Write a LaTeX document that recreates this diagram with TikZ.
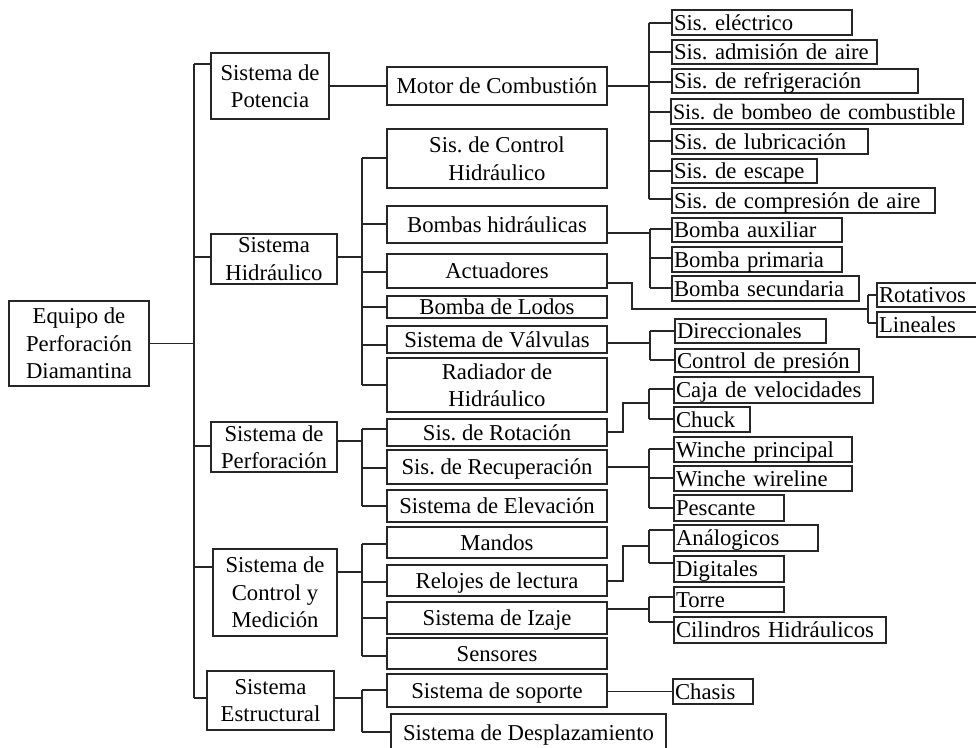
\documentclass[tikz,border=0pt]{standalone}
\usepackage{fontspec}
\setmainfont{Liberation Serif}
\frenchspacing
\tikzset{
  box/.style={draw=black!85, line width=1.15pt, inner sep=0pt, align=center, font=\fontsize{22.7}{27.5}\selectfont\frenchspacing},
  one/.style={text height=15pt, text depth=0pt},
  leaf/.style={box, one, align=left, inner xsep=2pt},
  conn/.style={draw=black!85, line width=1.15pt},
}
% centred box: [options]{name}{x1}{y1}{x2}{y2}{text}
\newcommand\bxc[7][]{%
  \pgfmathsetmacro\bxW{#5-#3}\pgfmathsetmacro\bxH{#6-#4}%
  \pgfmathsetmacro\bxX{(#3+#5)/2}\pgfmathsetmacro\bxY{(#4+#6)/2}%
  \node[box,#1,minimum width=\bxW pt,minimum height=\bxH pt] (#2) at (\bxX,\bxY) {#7};}
% left-aligned leaf box: {name}{x1}{y1}{x2}{y2}{text}
\newcommand\bxl[6]{%
  \pgfmathsetmacro\bxW{#4-#2}\pgfmathsetmacro\bxT{#4-#2-4}\pgfmathsetmacro\bxH{#5-#3}%
  \pgfmathsetmacro\bxX{(#2+#4)/2}\pgfmathsetmacro\bxY{(#3+#5)/2}%
  \node[leaf,text width=\bxT pt,minimum height=\bxH pt] (#1) at (\bxX,\bxY) {\mbox{#6}};}
% junction on a trunk and branch to a node's west side
\newcommand\jn[4]{\coordinate (#1) at (#2,#3); \draw[conn] (#1) -- (#1 -| #4.west);}
\begin{document}
\begin{tikzpicture}[x=1pt,y=-1pt]
\fill[white] (0,0) rectangle (976,747);
\useasboundingbox (0,0) rectangle (976,747);

% ---------- level 0 and 1
\bxc{root}{9}{301}{149}{386}{Equipo de\\Perforación\\Diamantina}
\bxc{pot}{211}{53}{329}{119}{Sistema de\\Potencia}
\bxc{hid}{211}{234}{337}{284}{Sistema\\Hidráulico}
\bxc{per}{211}{422}{337}{472}{Sistema de\\Perforación}
\bxc{con}{213}{549}{337}{636}{Sistema de\\Control y\\Medición}
\bxc{est}{207}{671}{334}{730}{Sistema\\Estructural}

% ---------- level 2
\bxc[one]{mot}{387}{67}{607}{105}{Motor de Combustión}
\bxc{ctl}{387}{129}{607}{188}{Sis. de Control\\Hidráulico}
\bxc[one]{bom}{387}{206}{607}{243}{Bombas hidráulicas}
\bxc[one]{act}{387}{254}{607}{288}{Actuadores}
\bxc[one]{lod}{387}{296}{607}{318}{Bomba de Lodos}
\bxc[one]{val}{387}{326}{607}{353}{Sistema de Válvulas}
\bxc{rad}{387}{358}{607}{412}{Radiador de\\Hidráulico}
\bxc[one]{rot}{387}{419}{607}{446}{Sis. de Rotación}
\bxc[one]{rec}{387}{450}{607}{484}{Sis. de Recuperación}
\bxc[one]{ele}{387}{490}{607}{522}{Sistema de Elevación}
\bxc[one]{man}{387}{527}{607}{558}{Mandos}
\bxc[one]{rel}{387}{565}{607}{596}{Relojes de lectura}
\bxc[one]{iza}{387}{602}{607}{634}{Sistema de Izaje}
\bxc[one]{sen}{387}{638}{607}{669}{Sensores}
\bxc[one]{sop}{387}{674}{607}{707}{Sistema de soporte}
\bxc[one]{des}{391}{714}{666}{752}{Sistema de Desplazamiento}

% ---------- level 3 (leaves)
\bxl{e1}{672}{10}{852}{35}{Sis. eléctrico}
\bxl{e2}{672}{40}{877}{64}{Sis. admisión de aire}
\bxl{e3}{672}{69}{918}{93}{Sis. de refrigeración}
\bxl{e4}{671}{99}{963}{124}{\fontsize{22}{27}\selectfont Sis. de bombeo de combustible}
\bxl{e5}{672}{129}{868}{154}{Sis. de lubricación}
\bxl{e6}{672}{159}{817}{183}{Sis. de escape}
\bxl{e7}{672}{188}{935}{213}{Sis. de compresión de aire}
\bxl{b1}{672}{218}{842}{242}{Bomba auxiliar}
\bxl{b2}{672}{247}{842}{272}{Bomba primaria}
\bxl{b3}{672}{276}{859}{301}{Bomba secundaria}
\bxl{a1}{877}{283}{982}{307}{Rotativos}
\bxl{a2}{877}{312}{982}{337}{Lineales}
\bxl{v1}{675}{319}{826}{343}{Direccionales}
\bxl{v2}{675}{349}{859}{372}{Control de presión}
\bxl{r1}{674}{377}{873}{403}{Caja de velocidades}
\bxl{r2}{674}{407}{750}{432}{Chuck}
\bxl{w1}{674}{437}{852}{462}{Winche principal}
\bxl{w2}{674}{466}{852}{491}{Winche wireline}
\bxl{w3}{674}{495}{784}{521}{Pescante}
\bxl{g1}{674}{525}{818}{551}{Análogicos}
\bxl{g2}{674}{556}{784}{582}{Digitales}
\bxl{i1}{674}{587}{784}{612}{Torre}
\bxl{i2}{674}{617}{886}{643}{Cilindros Hidráulicos}
\bxl{ch}{673}{679}{753}{704}{Chasis}

% ---------- connectors: main trunk
\coordinate (m0) at (194,343.5);
\draw[conn] (root.east) -- (m0);
\jn{m1}{194}{64}{pot}
\jn{m2}{194}{257}{hid}
\jn{m3}{194}{446}{per}
\jn{m4}{194}{567}{con}
\jn{m5}{194}{698}{est}
\draw[conn] (m1) -- (m5);

% potencia
\draw[conn] (pot.east) -- (mot.west);

% hidraulico
\coordinate (h0) at (362,257);
\draw[conn] (h0 -| hid.east) -- (h0);
\jn{h1}{362}{158}{ctl}
\jn{h2}{362}{224}{bom}
\jn{h3}{362}{272}{act}
\jn{h4}{362}{307}{lod}
\jn{h5}{362}{345}{val}
\jn{h6}{362}{385}{rad}
\draw[conn] (h1) -- (h6);

% perforacion
\coordinate (p0) at (362,441);
\draw[conn] (p0 -| per.east) -- (p0);
\jn{p1}{362}{429}{rot}
\jn{p2}{362}{468}{rec}
\jn{p3}{362}{506}{ele}
\draw[conn] (p1) -- (p3);

% control y medicion
\coordinate (c0) at (362,572);
\draw[conn] (c0 -| con.east) -- (c0);
\jn{c1}{362}{544}{man}
\jn{c2}{362}{582}{rel}
\jn{c3}{362}{618}{iza}
\jn{c4}{362}{656}{sen}
\draw[conn] (c1) -- (c4);

% estructural
\coordinate (s0) at (362,698);
\draw[conn] (s0 -| est.east) -- (s0);
\jn{s1}{362}{690}{sop}
\jn{s2}{362}{732}{des}
\draw[conn] (s1) -- (s2);

% motor de combustion
\coordinate (e0) at (649,86);
\draw[conn] (mot.east) -- (e0);
\jn{je1}{649}{23}{e1}
\jn{je2}{649}{52}{e2}
\jn{je3}{649}{82}{e3}
\jn{je4}{649}{112}{e4}
\jn{je5}{649}{141}{e5}
\jn{je6}{649}{171}{e6}
\jn{je7}{649}{199}{e7}
\draw[conn] (je1) -- (je7);

% bombas
\coordinate (b0) at (650,233);
\draw[conn] (b0 -| bom.east) -- (b0);
\jn{jb1}{650}{229}{b1}
\jn{jb2}{650}{258}{b2}
\jn{jb3}{650}{288}{b3}
\draw[conn] (jb1) -- (jb3);

% actuadores
\coordinate (a0) at (632,283);
\coordinate (a00) at (868,309);
\draw[conn] (a0 -| act.east) -- (a0) |- (a00);
\jn{ja1}{868}{295}{a1}
\jn{ja2}{868}{323}{a2}
\draw[conn] (ja1) -- (ja2);

% valvulas
\coordinate (v0) at (650,343);
\draw[conn] (v0 -| val.east) -- (v0);
\jn{jv1}{650}{331}{v1}
\jn{jv2}{650}{360}{v2}
\draw[conn] (jv1) -- (jv2);

% rotacion
\coordinate (r0) at (623,432);
\coordinate (r00) at (649,403);
\draw[conn] (r0 -| rot.east) -- (r0) |- (r00);
\jn{jr1}{649}{389}{r1}
\jn{jr2}{649}{419}{r2}
\draw[conn] (jr1) -- (jr2);

% recuperacion
\coordinate (w0) at (649,467);
\draw[conn] (w0 -| rec.east) -- (w0);
\jn{jw1}{649}{449}{w1}
\jn{jw2}{649}{478}{w2}
\jn{jw3}{649}{508}{w3}
\draw[conn] (jw1) -- (jw3);

% relojes
\coordinate (g0) at (623,581);
\coordinate (g00) at (649,546);
\draw[conn] (g0 -| rel.east) -- (g0) |- (g00);
\jn{jg1}{649}{530}{g1}
\jn{jg2}{649}{563}{g2}
\draw[conn] (jg1) -- (jg2);

% izaje
\coordinate (i0) at (649,609);
\draw[conn] (i0 -| iza.east) -- (i0);
\jn{ji1}{649}{597}{i1}
\jn{ji2}{649}{622}{i2}
\draw[conn] (ji1) -- (ji2);

% soporte
\draw[conn] (sop.east |- ch.west) -- (ch.west);
\end{tikzpicture}
\end{document}
